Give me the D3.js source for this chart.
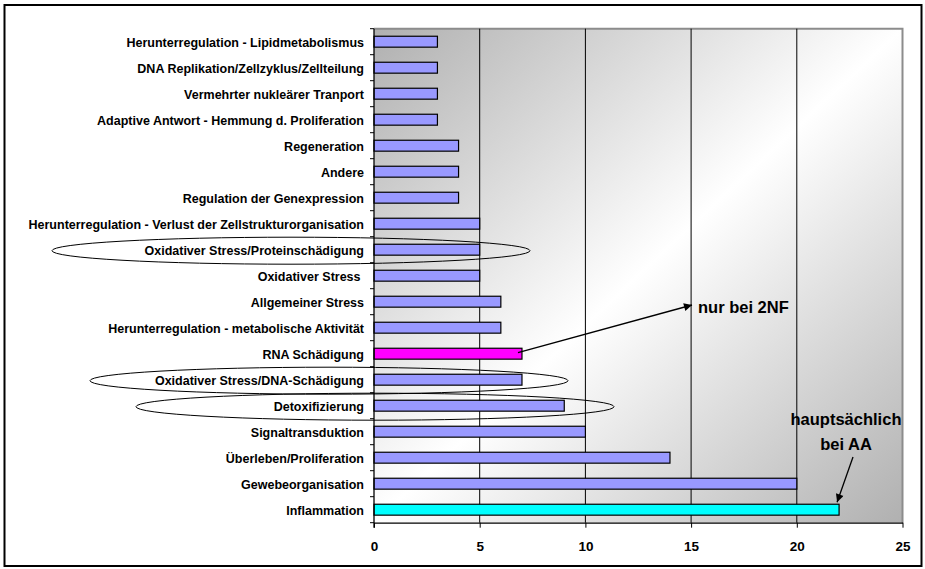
<!DOCTYPE html>
<html><head><meta charset="utf-8">
<script src="https://cdn.jsdelivr.net/npm/d3@7"></script>
<style>body{margin:0;background:#fff}svg{display:block}</style>
</head><body>
<svg id="c" width="925" height="569"></svg>
<script>
const categories = [
  "Herunterregulation - Lipidmetabolismus",
  "DNA Replikation/Zellzyklus/Zellteilung",
  "Vermehrter nukleärer Tranport",
  "Adaptive Antwort - Hemmung d. Proliferation",
  "Regeneration",
  "Andere",
  "Regulation der Genexpression",
  "Herunterregulation - Verlust der Zellstrukturorganisation",
  "Oxidativer Stress/Proteinschädigung",
  "Oxidativer Stress ",
  "Allgemeiner Stress",
  "Herunterregulation - metabolische Aktivität",
  "RNA Schädigung",
  "Oxidativer Stress/DNA-Schädigung",
  "Detoxifizierung",
  "Signaltransduktion",
  "Überleben/Proliferation",
  "Gewebeorganisation",
  "Inflammation"
];
const values = [3,3,3,3,4,4,4,5,5,5,6,6,7,7,9,10,14,20,22];
const highlight = {"RNA Schädigung":"#ff00ff","Inflammation":"#00ffff"};
const xTicks = [0,5,10,15,20,25];
const circled = ["Oxidativer Stress/Proteinschädigung","Oxidativer Stress/DNA-Schädigung","Detoxifizierung"];
const note1 = {text:["nur bei 2NF"], from:"RNA Schädigung"};
const note2 = {text:["hauptsächlich","bei AA"], to:"Inflammation"};

const svg = d3.select("#c");
const L=374, R=902.5, T=28.7, B=522.7;
const FONT = "Liberation Sans, Arial, sans-serif";
const x = d3.scaleLinear().domain([0,25]).range([L,R]);
const y = d3.scaleBand().domain(categories).range([T,B]).paddingInner(0.58).paddingOuter(0.29);
const yb = d3.scaleBand().domain(categories).range([T,B]);

// outer frame
svg.append("rect").attr("x",4.5).attr("y",5).attr("width",917).attr("height",561)
  .attr("fill","#fff").attr("stroke","#000").attr("stroke-width",2);

const defs = svg.append("defs");
const g = defs.append("linearGradient").attr("id","bg").attr("x1","0").attr("y1","0").attr("x2","1").attr("y2","1");
g.append("stop").attr("offset","0").attr("stop-color","#b0b0b0");
g.append("stop").attr("offset","0.5").attr("stop-color","#ffffff");
g.append("stop").attr("offset","1").attr("stop-color","#b0b0b0");
defs.append("marker").attr("id","ah").attr("viewBox","0 0 10 10").attr("refX",10).attr("refY",5)
  .attr("markerWidth",10).attr("markerHeight",8).attr("markerUnits","userSpaceOnUse").attr("orient","auto")
  .append("path").attr("d","M0,0L10,5L0,10Z").attr("fill","#000");

svg.append("rect").attr("x",L).attr("y",T).attr("width",R-L).attr("height",B-T).attr("fill","url(#bg)");
// plot border top/right
svg.append("path").attr("d",`M${L},${T}H${R}V${B}`).attr("fill","none").attr("stroke","#8c8c8c").attr("stroke-width",2);

// grid
svg.append("g").selectAll("line").data(xTicks.filter(d=>d>0&&d<25)).join("line")
  .attr("x1",d=>x(d)).attr("x2",d=>x(d)).attr("y1",T).attr("y2",B).attr("stroke","#000").attr("stroke-width",1);

// bars
svg.append("g").selectAll("rect").data(categories).join("rect")
  .attr("x",L).attr("y",d=>y(d)).attr("height",y.bandwidth())
  .attr("width",(d,i)=>x(values[i])-L)
  .attr("fill",d=>highlight[d]||"#9999ff").attr("stroke","#000").attr("stroke-width",1.2);

// y axis
const ya = svg.append("g");
ya.append("line").attr("x1",L).attr("x2",L).attr("y1",T).attr("y2",B+5).attr("stroke","#000").attr("stroke-width",1.3);
ya.selectAll("line.t").data(d3.range(categories.length+1)).join("line").attr("class","t")
  .attr("x1",L-4).attr("x2",L).attr("y1",i=>T+i*yb.step()).attr("y2",i=>T+i*yb.step()).attr("stroke","#000");
ya.selectAll("text").data(categories).join("text")
  .attr("x",364).attr("y",d=>yb(d)+yb.bandwidth()/2+1).attr("dy","0.35em").attr("text-anchor","end")
  .attr("font-family",FONT).attr("font-weight","bold").attr("font-size",12.5)
  .attr("xml:space","preserve").style("white-space","pre").text(d=>d);

// x axis
const xa = svg.append("g").attr("transform",`translate(0,${B})`)
  .call(d3.axisBottom(x).tickValues(xTicks).tickSize(5).tickSizeOuter(0).tickPadding(14));
xa.select(".domain").attr("stroke","#000").attr("stroke-width",1.3);
xa.selectAll("line").attr("stroke","#000");
xa.selectAll("text").attr("font-family",FONT).attr("font-weight","bold").attr("font-size",13.5).attr("fill","#000");

// ellipses
svg.append("g").selectAll("ellipse").data(circled).join("ellipse")
  .attr("cx",(d,i)=>[291,329,375][i]).attr("cy",d=>yb(d)+yb.bandwidth()/2+1)
  .attr("rx",239).attr("ry",13.5).attr("fill","none").attr("stroke","#000").attr("stroke-width",1);

// annotations
const rnaI = categories.indexOf(note1.from);
svg.append("line").attr("x1",x(values[rnaI])-4).attr("y1",yb(note1.from)+yb.bandwidth()/2-1)
  .attr("x2",692).attr("y2",305).attr("stroke","#000").attr("stroke-width",1.3).attr("marker-end","url(#ah)");
svg.append("text").attr("x",698).attr("y",307).attr("dy","0.35em")
  .attr("font-family",FONT).attr("font-weight","bold").attr("font-size",16.5).text(note1.text[0]);

const infI = categories.indexOf(note2.to);
svg.append("line").attr("x1",853).attr("y1",457).attr("x2",x(values[infI])-2).attr("y2",y(note2.to)-2)
  .attr("stroke","#000").attr("stroke-width",1.3).attr("marker-end","url(#ah)");
svg.append("text").attr("x",846).attr("text-anchor","middle")
  .attr("font-family",FONT).attr("font-weight","bold").attr("font-size",16.5)
  .selectAll("tspan").data(note2.text).join("tspan").attr("x",846).attr("y",(d,i)=>419+i*25).attr("dy","0.35em").text(d=>d);
</script>
</body></html>
